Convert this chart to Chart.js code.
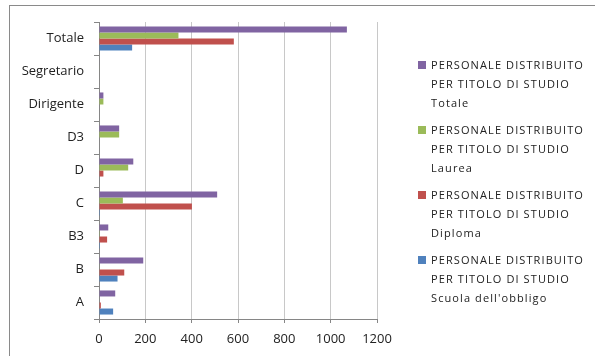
<!DOCTYPE html>
<html>
<head>
<meta charset="utf-8">
<script src="https://cdn.jsdelivr.net/npm/chart.js@4/dist/chart.umd.min.js"></script>
<style>
  html, body { margin: 0; padding: 0; background: #fff; overflow: hidden; }
  #wrap { position: relative; width: 595px; height: 356px; overflow: hidden; }
  #frame { position: absolute; left: 9px; top: 5px; width: 700px; height: 500px; border-left: 1px solid #8a8a8a; border-top: 1px solid #8a8a8a; pointer-events: none; }
  #legend { position: absolute; left: 418px; top: 55px; font-family: "Open Sans", "Liberation Sans", sans-serif; font-size: 11px; letter-spacing: 1.1px; color: #222; line-height: 19px; white-space: nowrap; }
  .item { position: relative; padding-left: 13px; height: 57px; margin-bottom: 8px; }
  .sw { position: absolute; left: 0; top: 6px; width: 8px; height: 8px; }
</style>
</head>
<body>
<div id="wrap">
  <canvas id="c" width="595" height="356"></canvas>
  <div id="legend"></div>
  <div id="frame"></div>
</div>
<script>
// Personnel by qualification level, per category
const categories = ["Totale", "Segretario", "Dirigente", "D3", "D", "C", "B3", "B", "A"];
const totale  = [1070, 2, 19, 87, 148, 510, 40, 191, 70];
const laurea  = [343, 2, 19, 87, 126, 103, 1, 2, 0];
const diploma = [582, 0, 0, 0, 19, 401, 35, 109, 8];
const scuola  = [143, 0, 0, 0, 0, 4, 4, 80, 61];
const xTicks = [0, 200, 400, 600, 800, 1000, 1200];

const prefix = ["PERSONALE DISTRIBUITO", "PER TITOLO DI STUDIO"];
const series = [
  { name: "Totale", data: totale, color: "#8064A2" },
  { name: "Laurea", data: laurea, color: "#9BBB59" },
  { name: "Diploma", data: diploma, color: "#C0504D" },
  { name: "Scuola dell'obbligo", data: scuola, color: "#4F81BD" }
];

// Legend on the right, three lines per series
const legend = document.getElementById("legend");
series.forEach(s => {
  const d = document.createElement("div");
  d.className = "item";
  d.innerHTML = '<span class="sw" style="background:' + s.color + '"></span>' +
    prefix.join("<br>") + "<br>" + s.name;
  legend.appendChild(d);
});

const font = { family: '"Open Sans", "Liberation Sans", sans-serif', size: 13 };

new Chart(document.getElementById("c"), {
  type: "bar",
  data: {
    labels: categories,
    datasets: series.map(s => ({
      label: prefix.join(" ") + " " + s.name,
      data: s.data,
      backgroundColor: s.color,
      borderWidth: 0,
      categoryPercentage: 0.73,
      barPercentage: 1.0
    }))
  },
  options: {
    indexAxis: "y",
    responsive: false,
    animation: false,
    layout: { padding: { top: 22, right: 218, bottom: 0, left: 0 } },
    plugins: { legend: { display: false }, tooltip: { enabled: false } },
    scales: {
      x: {
        min: 0, max: 1200,
        afterBuildTicks: s => { s.ticks = xTicks.map(v => ({ value: v })); },
        afterFit: s => { s.height = 37; },
        grid: {
          color: "#c8c8c8", lineWidth: 1, tickLength: 4,
          tickColor: "#868686"
        },
        border: { color: "#868686" },
        ticks: { font: font, color: "#222", padding: 8, callback: v => String(v) }
      },
      y: {
        afterFit: s => { s.width = 99; },
        grid: { drawOnChartArea: false, tickLength: 5, color: "#868686", offset: true },
        border: { color: "#868686" },
        ticks: { font: font, color: "#222", padding: 10 }
      }
    }
  }
});
</script>
</body>
</html>
